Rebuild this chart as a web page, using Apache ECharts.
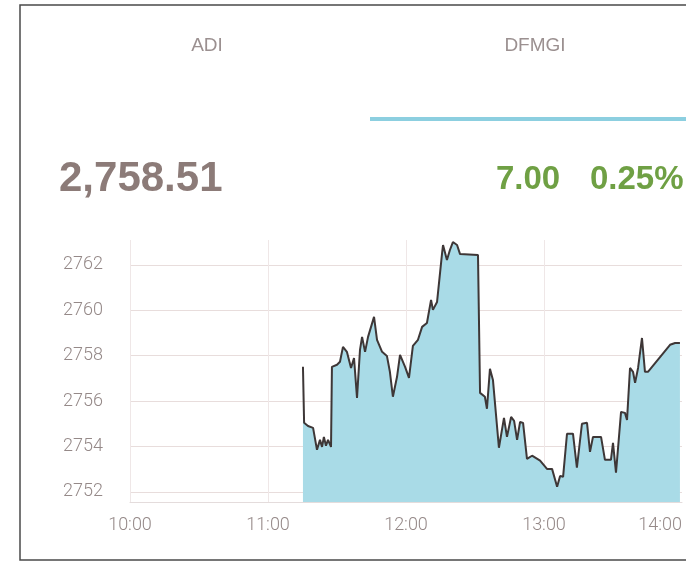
<!DOCTYPE html>
<html>
<head>
<meta charset="utf-8">
<script src="https://cdn.jsdelivr.net/npm/echarts@6/dist/echarts.min.js"></script>
<style>
html,body{margin:0;padding:0;background:#fff;}
#chart{width:686px;height:561px;}
</style>
</head>
<body>
<div id="chart"></div>
<script>
// ---- data ----
const times = ['11:15:12','11:15:42','11:17:24','11:19:36','11:21:18','11:22:36','11:23:30','11:24:18','11:25:12','11:26:06',
  '11:27:24','11:27:48','11:30:00','11:31:18','11:32:36','11:34:18','11:36:06','11:37:24','11:38:42','11:40:00',
  '11:40:54','11:42:12','11:43:30','11:46:06','11:47:24','11:49:36','11:51:42','11:53:00','11:54:18','11:56:06',
  '11:57:24','11:59:36','12:01:18','12:03:00','12:05:12','12:07:00','12:09:06','12:10:54','12:11:42','12:13:30',
  '12:15:42','12:16:06','12:17:48','12:19:06','12:20:24','12:22:12','12:23:30','12:31:18','12:32:12','12:34:18',
  '12:35:12','12:36:30','12:37:48','12:40:24','12:42:36','12:43:54','12:45:42','12:47:00','12:48:18','12:49:36',
  '12:50:54','12:52:36','12:54:48','12:58:18','13:01:18','13:03:30','13:05:42','13:07:00','13:08:18','13:10:00',
  '13:12:36','13:14:18','13:16:30','13:18:42','13:20:00','13:21:18','13:24:48','13:26:30','13:29:06','13:30:00',
  '13:31:18','13:33:30','13:35:12','13:36:06','13:37:24','13:38:42','13:39:36','13:40:54','13:42:36','13:43:54',
  '13:45:12','13:54:48','13:57:00','13:59:06'];
const prices = [2757.51,2755.04,2754.90,2754.82,2753.85,2754.29,2753.98,2754.42,2754.03,2754.29,
  2753.98,2757.51,2757.60,2757.73,2758.39,2758.17,2757.46,2757.90,2756.14,2758.26,
  2758.83,2758.17,2758.83,2759.71,2758.70,2758.17,2757.99,2757.29,2756.19,2757.07,
  2758.04,2757.51,2757.02,2758.43,2758.70,2759.27,2759.44,2760.46,2760.02,2760.37,
  2762.53,2762.88,2762.22,2762.66,2763.01,2762.88,2762.48,2762.44,2756.36,2756.19,
  2755.66,2757.42,2756.93,2753.94,2755.26,2754.42,2755.30,2755.13,2754.29,2755.08,
  2755.04,2753.45,2753.59,2753.37,2753.01,2753.01,2752.22,2752.70,2752.66,2754.56,
  2754.56,2753.06,2755.00,2755.04,2753.76,2754.42,2754.42,2753.41,2753.41,2754.16,
  2752.84,2755.52,2755.48,2755.17,2757.46,2757.29,2756.80,2757.46,2758.78,2757.29,
  2757.29,2758.48,2758.56,2758.56];
const xTickLabels = ['10:00','11:00','12:00','13:00','14:00'];
const yTickLabels = [2752,2754,2756,2758,2760,2762];
const tabLabels = ['ADI','DFMGI'];
const lastPrice = '2,758.51';
const change = '7.00';
const changePct = '0.25%';

// minutes after 10:00
function toMin(t){const p=t.split(':').map(Number);return (p[0]-10)*60+p[1]+(p[2]||0)/60;}
const seriesData = times.map((t,i)=>[toMin(t),prices[i]]);

const chart = echarts.init(document.getElementById('chart'));
const labelColor = '#958988';
chart.setOption({
  animation:false,
  backgroundColor:'#ffffff',
  grid:{left:130,right:4,top:240,bottom:59,containLabel:false},
  xAxis:{
    type:'value',min:0,max:240,interval:60,
    axisLine:{show:true,lineStyle:{color:'#e4dcdc',width:1}},
    axisTick:{show:false},
    splitLine:{show:true,showMaxLine:false,lineStyle:{color:'#efe7e7',width:1}},
    axisLabel:{color:labelColor,fontSize:18,fontFamily:'Roboto',fontWeight:300,margin:14,
      alignMaxLabel:'right',
      formatter:v=>xTickLabels[Math.round(v/60)]||''}
  },
  yAxis:{
    type:'value',min:2751.55,max:2763.1,splitNumber:5,
    axisLine:{show:false},axisTick:{show:false},
    splitLine:{show:true,showMinLine:false,showMaxLine:false,lineStyle:{color:'#e8dddc',width:1}},
    axisLabel:{color:labelColor,fontSize:18,fontFamily:'Roboto',fontWeight:300,margin:27,
      showMinLabel:false,showMaxLabel:false,
      formatter:v=>yTickLabels.indexOf(Math.round(v))>=0 && Math.abs(v-Math.round(v))<1e-6 ? String(Math.round(v)) : ''}
  },
  series:[{
    type:'line',data:seriesData,showSymbol:false,symbol:'none',
    lineStyle:{color:'#3e3737',width:2},
    areaStyle:{color:'#a9dbe7',opacity:1,origin:'start'}
  }],
  graphic:[
    {type:'rect',shape:{x:20,y:5,width:700,height:555},style:{fill:'none',stroke:'#4a4a4a',lineWidth:1.5},silent:true},
    {type:'text',style:{x:207,y:46,text:tabLabels[0],fill:'#9b9090',fontSize:19,fontFamily:'Liberation Sans',textAlign:'center',textVerticalAlign:'middle'}},
    {type:'text',style:{x:535,y:46,text:tabLabels[1],fill:'#9b9090',fontSize:19,fontFamily:'Liberation Sans',textAlign:'center',textVerticalAlign:'middle'}},
    {type:'rect',shape:{x:370,y:117,width:320,height:4},style:{fill:'#8ccfe0'}},
    {type:'text',style:{x:59,y:179,text:lastPrice,fill:'#8c7b78',fontSize:42,fontWeight:'bold',fontFamily:'Liberation Sans',textAlign:'left',textVerticalAlign:'middle'}},
    {type:'text',style:{x:496,y:180,text:change,fill:'#6fa044',fontSize:33,fontWeight:'bold',fontFamily:'Liberation Sans',textAlign:'left',textVerticalAlign:'middle'}},
    {type:'text',style:{x:590,y:180,text:changePct,fill:'#6fa044',fontSize:33,fontWeight:'bold',fontFamily:'Liberation Sans',textAlign:'left',textVerticalAlign:'middle'}}
  ]
});
</script>
</body>
</html>
